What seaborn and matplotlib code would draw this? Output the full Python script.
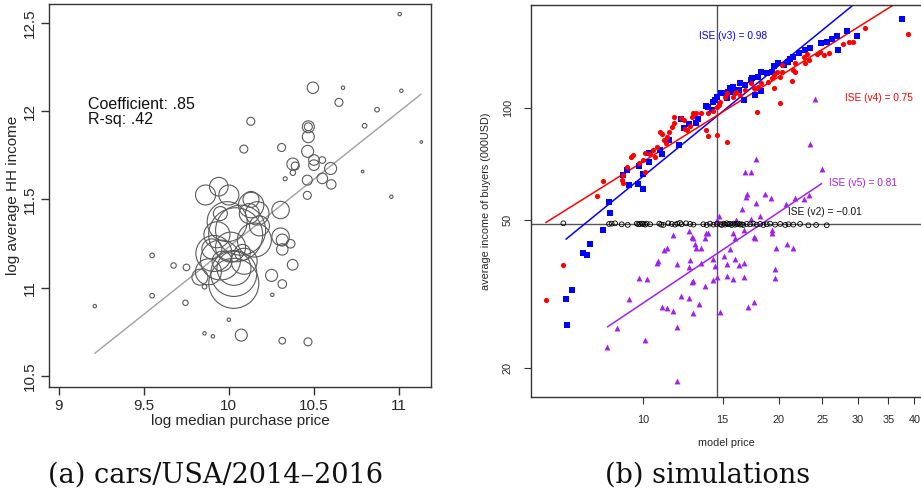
import numpy as np
import pandas as pd
import matplotlib
matplotlib.use("Agg")
import matplotlib.pyplot as plt
import seaborn as sns
from matplotlib.ticker import FixedLocator, NullLocator, FixedFormatter

# ---------------- Panel (a): cars / USA / 2014-2016 ----------------
car_log_price = [11.004, 10.494, 10.671, 10.647, 11.014, 10.871, 10.798, 11.131, 10.129, 10.088,
                 10.310, 10.467, 10.467, 10.467, 10.463, 10.5, 10.549, 10.5, 10.376, 10.39,
                 10.376, 10.331, 10.598, 10.549, 10.602, 10.461, 10.461, 10.786, 10.955, 10.304,
                 10.304, 10.314, 10.314, 10.363, 10.375, 10.251, 10.314, 10.255, 9.549, 9.549,
                 9.212, 9.675, 9.745, 9.751, 9.857, 9.906, 10.0, 10.073, 10.314, 10.465, 9.857,
                 9.863, 9.941, 10.0, 10.131, 10.167, 9.990, 10.069, 10.04, 9.912, 9.951,
                 10.029, 10.029, 10.03, 9.88, 10.09, 10.15, 10.01, 9.93, 9.83, 10.12,
                 10.13, 9.96, 10.08, 9.9, 10.18, 9.95]
car_log_income = [12.549, 12.132, 12.132, 12.049, 12.115, 12.008, 11.917, 11.825, 11.942, 11.785,
                  11.794, 11.911, 11.911, 11.855, 11.772, 11.723, 11.723, 11.694, 11.700, 11.689,
                  11.651, 11.617, 11.675, 11.619, 11.585, 11.609, 11.523, 11.658, 11.515, 11.440,
                  11.289, 11.270, 11.217, 11.249, 11.130, 11.070, 11.021, 10.960, 11.183, 10.955,
                  10.896, 11.126, 10.915, 11.115, 10.742, 10.725, 10.819, 10.732, 10.700, 10.694, 11.006,
                  11.525, 11.572, 11.525, 11.468, 11.421, 11.374, 11.326, 11.30, 11.194, 11.157,
                  11.081, 11.025, 11.11, 11.09, 11.15, 11.27, 11.23, 11.30, 11.06, 11.42,
                  11.50, 11.15, 11.2, 11.22, 11.35, 11.42]
car_volume = [2.9, 32.5, 2.9, 16, 2.9, 5.3, 5.3, 1.7, 16, 16,
              16, 36, 16, 36, 36, 28.1, 10.9, 28.1, 36, 16,
              7.3, 4, 36, 28.1, 22.1, 25, 16, 1.7, 2.9, 75.7,
              75.7, 36, 32.5, 18.5, 28.1, 36, 18.5, 2.9, 5.3, 5.3,
              2.9, 7.3, 7.3, 10.9, 2.9, 2.9, 2.9, 36, 10.9, 16, 5.3,
              100, 86.5, 100, 161.3, 136.9, 400, 625, 729, 324, 400,
              529, 625, 289, 169, 169, 289, 225, 169, 64, 100,
              64, 100, 64, 100, 100, 49]
fit_a_price = [9.212, 11.13]
fit_a_income = [10.629, 12.096]
a_xticks = [9, 9.5, 10, 10.5, 11]
a_xticklabels = ["9", "9.5", "10", "10.5", "11"]
a_yticks = [10.5, 11, 11.5, 12, 12.5]
a_yticklabels = ["10.5", "11", "11.5", "12", "12.5"]

# ---------------- Panel (b): simulations ----------------
v3_price = [37.5, 28.3, 29.8, 26.9, 26.2, 27.1, 25.6, 24.8, 23.5, 22.9, 22.2, 21.5, 21.2, 21.0, 20.5,
            19.9, 19.5, 19.3, 18.8, 18.3, 18.3, 18.0, 17.7, 17.4, 17.3, 16.8, 16.7, 16.4, 16.3, 15.9,
            15.8, 15.6, 15.4, 15.3, 15.1, 14.9, 14.6, 14.4, 14.3, 14.2, 13.9, 13.8, 13.2, 13.1, 12.6,
            12.3, 12.1, 12.0, 11.4, 11.0, 10.9, 10.3, 10.3, 10.0, 9.8, 10.0, 9.75, 9.2, 9.3, 9.0,
            8.4, 8.45, 8.15, 7.6, 7.5, 7.36, 6.93, 6.73, 6.75]
v3_income = [173.6, 161.6, 156.5, 156.5, 153.3, 143.6, 150.5, 149.6, 145.0, 143.6, 141.3, 137.7, 135.5, 133.5, 130.7,
             132.1, 130.0, 125.5, 124.2, 125.0, 111.6, 121.7, 108.6, 120.5, 119.2, 115.5, 105.3, 116.8, 112.0, 110.9,
             114.4, 113.2, 110.9, 106.4, 109.7, 109.7, 107.5, 105.3, 104.2, 99.0, 101.0, 101.8, 93.6, 91.1, 90.7,
             88.7, 93.4, 79.7, 82.2, 75.6, 77.2, 76.1, 71.9, 66.8, 69.9, 60.9, 62.8, 68.5, 62.2, 66.2,
             56.1, 52.2, 47.1, 43.3, 40.4, 40.9, 32.4, 30.8, 26.1]
v4_price = [38.8, 31.1, 29.2, 28.6, 27.7, 25.8, 25.2, 24.7, 24.3, 23.1, 22.7, 23.3, 22.9, 21.7, 21.5,
            21.7, 21.4, 20.3, 20.3, 20.1, 19.8, 19.5, 19.3, 19.5, 18.9, 18.3, 18.0, 17.9, 17.6, 17.3,
            16.8, 16.4, 16.1, 16.0, 15.85, 15.3, 15.2, 14.8, 14.7, 14.55, 14.55, 15.3, 14.3, 13.9, 13.8,
            13.9, 13.4, 13.1, 12.9, 12.8, 12.7, 12.5, 12.4, 12.3, 12.1, 11.7, 11.7, 11.6, 11.4, 11.3,
            11.2, 11.1, 11.0, 10.9, 10.7, 10.5, 10.6, 10.35, 10.1, 10.0, 10.1, 9.8, 9.5, 9.4, 9.2,
            9.0, 8.95, 9.0, 8.15, 7.9, 6.64, 6.07, 20.1]
v4_income = [158.1, 164.2, 150.5, 150.5, 148.7, 140.6, 139.2, 141.6, 140.0, 140.0, 137.7, 134.8, 132.7, 132.7, 126.8,
             125.5, 118.5, 130.7, 125.5, 121.7, 125.5, 122.9, 120.5, 113.2, 118.0, 116.8, 113.9, 98.0, 113.2, 117.2,
             112.0, 108.6, 110.9, 109.7, 107.5, 109.7, 107.5, 104.2, 102.1, 101.0, 84.8, 81.0, 98.4, 96.9, 87.4,
             84.2, 97.3, 96.9, 96.9, 95.0, 89.6, 87.4, 88.3, 93.0, 94.0, 94.6, 91.5, 89.3, 86.5, 83.9,
             80.5, 82.2, 85.6, 86.5, 78.8, 77.5, 74.1, 75.3, 75.9, 72.6, 67.5, 71.4, 74.9, 74.1, 69.6,
             66.2, 64.1, 63.1, 63.7, 58.2, 38.0, 30.6, 103.1]
v5_price = [24.1, 23.4, 24.9, 17.8, 16.8, 17.3, 16.9, 17.0, 17.8, 18.6, 19.2, 20.7, 21.7, 22.7, 23.3,
            16.6, 14.7, 16.1, 17.3, 18.2, 16.7, 15.8, 14.55, 17.6, 19.3, 19.3, 17.7, 16.0, 11.66, 12.6,
            12.8, 12.9, 13.8, 13.9, 13.7, 13.0, 13.1, 13.4, 11.1, 11.3, 12.7, 13.4, 14.3, 15.6, 16.0,
            15.1, 14.4, 15.3, 16.3, 16.7, 19.7, 20.9, 21.5, 10.7, 10.8, 11.9, 12.6, 12.8, 12.9, 13.7,
            14.3, 14.55, 15.3, 15.85, 16.7, 19.6, 19.65, 9.8, 10.2, 9.3, 11.0, 11.3, 11.66, 12.1, 12.6,
            13.3, 12.9, 14.8, 17.1, 17.6, 8.72, 10.1, 11.9, 8.3, 11.9]
v5_income = [105.7, 80.0, 68.9, 73.3, 67.5, 67.5, 57.8, 59.0, 55.8, 58.7, 57.6, 55.3, 57.3, 57.0, 58.4,
             53.5, 51.3, 50.0, 50.5, 51.3, 47.1, 46.1, 50.0, 45.1, 47.1, 46.1, 44.7, 44.9, 45.6, 46.9,
             45.1, 44.9, 46.3, 46.1, 44.7, 43.3, 42.2, 42.1, 41.5, 42.1, 39.1, 38.3, 39.3, 42.0, 39.3,
             40.1, 37.7, 38.1, 37.9, 38.3, 42.2, 43.3, 42.2, 38.3, 38.9, 38.1, 37.5, 34.1, 34.3, 33.2,
             34.5, 35.2, 35.4, 34.7, 35.2, 37.1, 34.9, 34.9, 34.7, 30.8, 29.3, 29.0, 28.5, 31.3, 31.0,
             29.8, 28.1, 28.4, 29.3, 30.2, 25.6, 23.9, 25.9, 22.8, 18.5]
v2_price = [6.64, 8.39, 8.50, 8.65, 8.95, 9.23, 9.67, 9.75, 9.83, 9.92,
            10.0, 10.09, 10.17, 10.35, 10.85, 10.95, 11.08, 11.36, 11.56, 11.76,
            11.90, 12.06, 12.16, 12.44, 12.70, 12.92, 13.59, 13.83, 14.06, 14.31,
            14.55, 14.81, 14.93, 15.06, 15.18, 15.32, 15.45, 15.58, 15.71, 15.85,
            15.98, 16.12, 16.26, 16.40, 16.54, 16.68, 16.97, 17.26, 17.56, 17.86,
            18.17, 18.48, 18.80, 19.12, 19.62, 20.13, 20.66, 21.01, 21.54, 22.29,
            23.26, 24.20, 25.55]
v2_income = [49.1, 48.9, 49.0, 49.1, 48.8, 48.6, 49.0, 48.8, 48.9, 49.0,
             48.9, 48.7, 49.0, 48.8, 49.0, 48.7, 48.6, 49.1, 48.9, 48.7,
             49.0, 49.2, 48.8, 49.1, 48.9, 48.7, 48.8, 48.6, 49.0, 48.7,
             48.9, 48.8, 48.6, 49.0, 48.7, 49.1, 48.8, 48.9, 48.6, 49.0,
             48.7, 48.9, 49.0, 48.7, 48.8, 48.6, 48.9, 48.8, 49.0, 48.7,
             48.9, 48.6, 48.8, 49.0, 48.7, 48.9, 48.6, 48.8, 48.7, 48.9,
             48.5, 48.6, 48.5]
fit_v3_price = [6.73, 29.44]
fit_v3_income = [44.5, 190.9]
fit_v4_price = [6.07, 36.25]
fit_v4_income = [49.33, 190.9]
fit_v5_price = [8.32, 24.9]
fit_v5_income = [25.85, 62.8]
ref_price = 14.56
ref_income = 48.8
b_xticks = [10, 15, 20, 25, 30, 35, 40]
b_yticks = [20, 50, 100]

# ---------------- styling ----------------
sns.set_style("ticks")
plt.rcParams["font.family"] = ["Liberation Sans", "DejaVu Sans"]
plt.rcParams["axes.linewidth"] = 1.0

W, H = 921, 493
fig = plt.figure(figsize=(W / 100, H / 100), dpi=100)

def rect(x0, y0, x1, y1):
    return [x0 / W, 1 - y1 / H, (x1 - x0) / W, (y1 - y0) / H]

# ---- Panel (a)
axa = fig.add_axes(rect(49, 4, 431, 386.7))
dfa = pd.DataFrame({"price": car_log_price, "income": car_log_income, "volume": car_volume})
vmax = max(car_volume)
sns.scatterplot(data=dfa, x="price", y="income", size="volume", sizes=(0, 2.0736 * vmax),
                size_norm=(0, vmax), legend=False, ax=axa, linewidth=0.8, zorder=3)
for coll in axa.collections:
    coll.set_facecolor("none")
    coll.set_edgecolor("#5a5a5a")
sns.lineplot(x=fit_a_price, y=fit_a_income, ax=axa, color="#a0a0a0", linewidth=1.0,
             estimator=None, sort=False, zorder=2)
axa.set_xlim(8.943, 11.188)
axa.set_ylim(10.44, 12.606)
axa.set_xticks(a_xticks)
axa.set_xticklabels(a_xticklabels, fontsize=11)
axa.set_yticks(a_yticks)
axa.set_yticklabels(a_yticklabels, fontsize=11, rotation=90, va="center")
axa.tick_params(direction="out", length=6, width=1, color="#333333", pad=3)
for s in axa.spines.values():
    s.set_color("#333333")
axa.set_xlabel("log median purchase price", fontsize=11)
axa.set_ylabel("log average HH income", fontsize=11)
axa.xaxis.set_label_coords(0.5, -(420.7 - 386.7) / 382.7)
axa.xaxis.label.set_va("center")
axa.yaxis.set_label_coords(-(49 - 13) / 382.0, 0.5)
axa.yaxis.label.set_va("center")
axa.text(9.17, 12.08, "Coefficient: .85\nR-sq: .42", fontsize=11.5, va="top", ha="left",
         linespacing=1.0, color="#111111")

# ---- Panel (b)
axb = fig.add_axes(rect(531, 5, 922, 396.7))
axb.set_xscale("log")
axb.set_yscale("log")
axb.axvline(ref_price, color="#555555", linewidth=1.0, zorder=1)
axb.axhline(ref_income, color="#555555", linewidth=1.0, zorder=1)

sns.scatterplot(x=v3_price, y=v3_income, ax=axb, marker="s", color="#0000FF", s=13,
                linewidth=0, zorder=3)
sns.scatterplot(x=v4_price, y=v4_income, ax=axb, marker="o", color="#FF0000", s=14,
                linewidth=0, zorder=3)
sns.scatterplot(x=v5_price, y=v5_income, ax=axb, marker="^", color="#A020F0", s=18,
                linewidth=0, zorder=3)
sns.scatterplot(x=v2_price, y=v2_income, ax=axb, marker="o", s=12, zorder=4,
                facecolor="none", edgecolor="black", linewidth=0.6)
axb.collections[-1].set_facecolor("none")
axb.collections[-1].set_edgecolor("black")

for px, py, col in [(fit_v3_price, fit_v3_income, "#0000FF"),
                    (fit_v4_price, fit_v4_income, "#FF0000"),
                    (fit_v5_price, fit_v5_income, "#A020F0")]:
    sns.lineplot(x=px, y=py, ax=axb, color=col, linewidth=1.1, estimator=None, sort=False, zorder=2)

axb.set_xlim(5.627, 41.6)
axb.set_ylim(16.78, 189.7)
axb.xaxis.set_major_locator(FixedLocator(b_xticks))
axb.xaxis.set_major_formatter(FixedFormatter([str(v) for v in b_xticks]))
axb.xaxis.set_minor_locator(NullLocator())
axb.yaxis.set_major_locator(FixedLocator(b_yticks))
axb.yaxis.set_major_formatter(FixedFormatter([str(v) for v in b_yticks]))
axb.yaxis.set_minor_locator(NullLocator())
axb.tick_params(direction="out", length=5, width=0.8, color="#333333", labelsize=7.8, pad=8)
for lab in axb.get_yticklabels():
    lab.set_rotation(90)
    lab.set_va("center")
for s in axb.spines.values():
    s.set_color("#333333")
axb.set_xlabel("model price", fontsize=7.8)
axb.set_ylabel("average income of buyers (000USD)", fontsize=7.8)
axb.xaxis.set_label_coords(0.5, -(442.7 - 396.7) / 391.7)
axb.xaxis.label.set_va("center")
axb.yaxis.set_label_coords(-(531 - 486) / 391.0, 0.5)
axb.yaxis.label.set_va("center")

axb.text(13.32, 156.5, "ISE (v3) = 0.98", color="#0000FF", fontsize=7.3, va="center", ha="left")
axb.text(28.0, 106.4, "ISE (v4) = 0.75", color="#FF0000", fontsize=7.3, va="center", ha="left")
axb.text(25.8, 63.2, "ISE (v5) = 0.81", color="#A020F0", fontsize=7.3, va="center", ha="left")
axb.text(21.0, 52.5, "ISE (v2) = \u22120.01", color="#111111", fontsize=7.3, va="center", ha="left")

# ---- Captions
fig.text(216 / W, 1 - 475 / H, "(a) cars/USA/2014\u20132016", fontsize=19.5,
         family=["DejaVu Serif"], ha="center", va="center", color="#111111")
fig.text(707.5 / W, 1 - 475 / H, "(b) simulations", fontsize=19.5,
         family=["DejaVu Serif"], ha="center", va="center", color="#111111")

fig.savefig("out.png", dpi=100)
